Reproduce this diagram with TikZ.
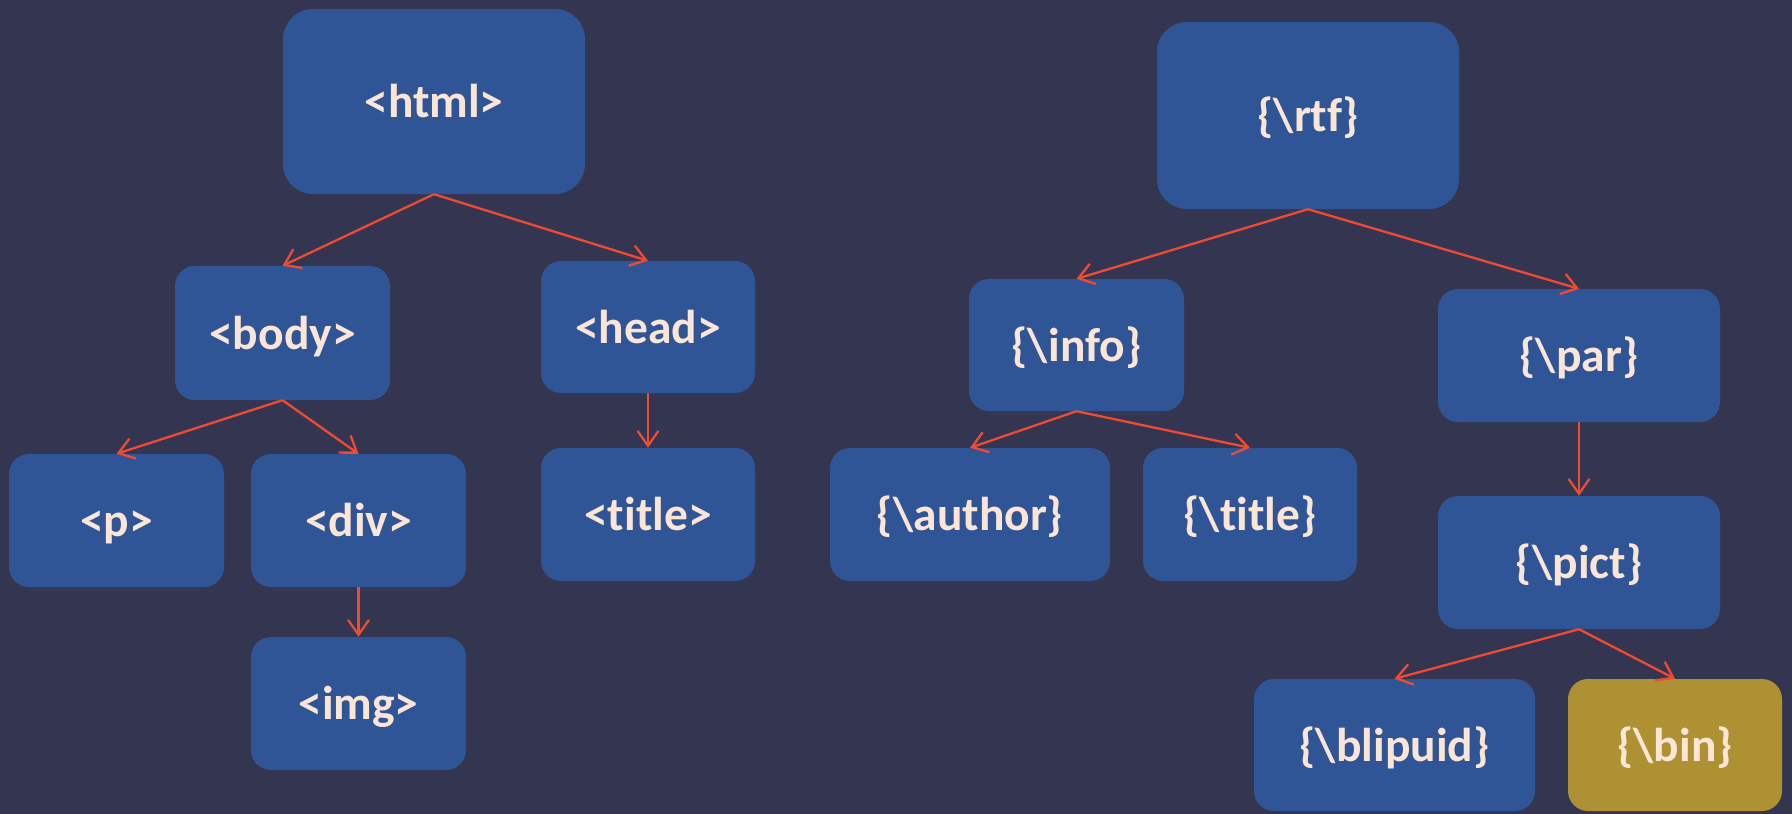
\documentclass[tikz,border=0pt]{standalone}
\usepackage{fontspec}
\setmainfont{Carlito}[Ligatures=NoCommon]
\usetikzlibrary{arrows.meta}
\definecolor{bgc}{RGB}{52,53,81}
\definecolor{boxc}{RGB}{47,85,151}
\definecolor{goldc}{RGB}{174,145,50}
\definecolor{txtc}{RGB}{251,229,214}
\definecolor{arrc}{RGB}{238,75,52}
\tikzset{
  tag/.style={fill=boxc, rounded corners=20pt, inner sep=0pt, text=txtc,
     text height=36pt, text depth=4pt,
     font=\fontsize{47.5}{52}\selectfont\bfseries},
  bigtag/.style={tag, rounded corners=30pt},
  link/.style={draw=arrc, line width=2.3pt, -{Straight Barb[length=15pt,width=21pt,line width=2.3pt]}}
}
\newcommand{\bs}{\textbackslash}
\begin{document}
\begin{tikzpicture}[x=1pt,y=-1pt]
\fill[bgc] (0,0) rectangle (1792,814);
\useasboundingbox (0,0) rectangle (1792,814);
% HTML tree
\node[bigtag, minimum width=302pt, minimum height=185pt] (html) at (434,101.5) {<html>};
\node[tag, minimum width=215pt, minimum height=134pt] (body) at (282.5,333) {<body>};
\node[tag, minimum width=214pt, minimum height=132pt] (head) at (648,327) {<head>};
\node[tag, minimum width=215pt, minimum height=133pt] (p) at (116.5,520.5) {<p>};
\node[tag, minimum width=215pt, minimum height=133pt] (div) at (358.5,520.5) {<div>};
\node[tag, minimum width=215pt, minimum height=133pt] (img) at (358.5,703.5) {<img>};
\node[tag, minimum width=214pt, minimum height=133pt] (htitle) at (648,514.5) {<title>};
% RTF tree
\node[bigtag, minimum width=302pt, minimum height=187pt] (rtf) at (1308,115.5) {\{\bs rtf\}};
\node[tag, minimum width=215pt, minimum height=132pt] (info) at (1076.5,345) {\{\bs info\}};
\node[tag, minimum width=280pt, minimum height=133pt] (author) at (970,514.5) {\{\bs author\}};
\node[tag, minimum width=214pt, minimum height=133pt] (rtitle) at (1250,514.5) {\{\bs title\}};
\node[tag, minimum width=282pt, minimum height=133pt] (par) at (1579,355.5) {\{\bs par\}};
\node[tag, minimum width=282pt, minimum height=133pt] (pict) at (1579,562.5) {\{\bs pict\}};
\node[tag, minimum width=281pt, minimum height=132pt] (blip) at (1394.5,745) {\{\bs blipuid\}};
\node[tag, fill=goldc, minimum width=214pt, minimum height=132pt] (bin) at (1675,745) {\{\bs bin\}};
% connectors
\draw[link] (html.south) -- (body.north);
\draw[link] (html.south) -- (head.north);
\draw[link] (body.south) -- (p.north);
\draw[link] (body.south) -- (div.north);
\draw[link] (div.south) -- (img.north);
\draw[link] (head.south) -- (htitle.north);
\draw[link] (rtf.south) -- (info.north);
\draw[link] (rtf.south) -- (par.north);
\draw[link] (info.south) -- (author.north);
\draw[link] (info.south) -- (rtitle.north);
\draw[link] (par.south) -- (pict.north);
\draw[link] (pict.south) -- (blip.north);
\draw[link] (pict.south) -- (bin.north);
\end{tikzpicture}
\end{document}
